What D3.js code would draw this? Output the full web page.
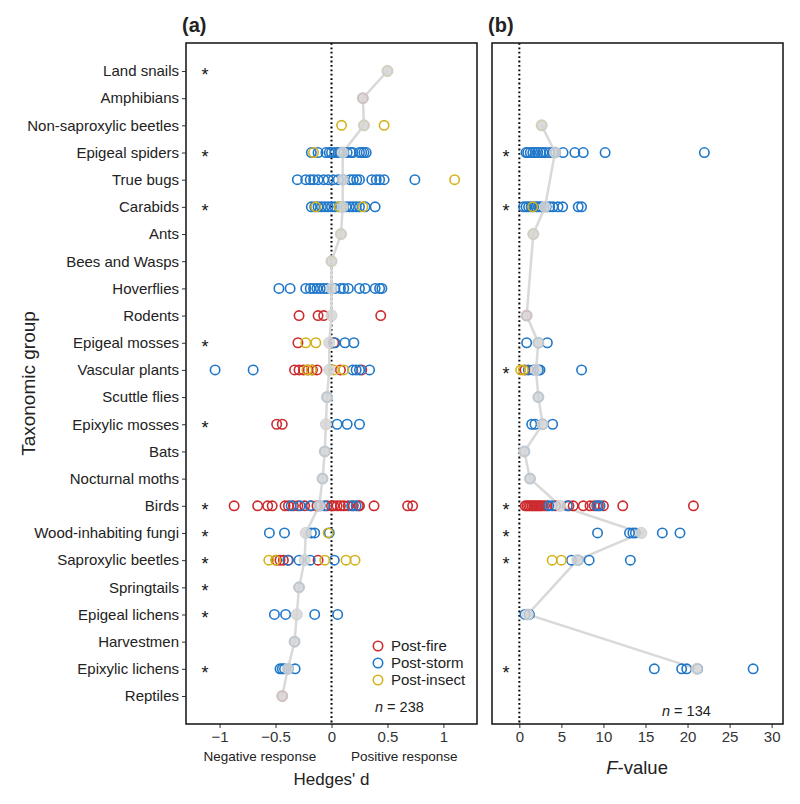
<!DOCTYPE html>
<html>
<head>
<meta charset="utf-8">
<script src="https://cdn.jsdelivr.net/npm/d3@7"></script>
<style>
  body { margin: 0; background: #fff; }
  svg text { font-family: "Liberation Sans", Arial, sans-serif; fill: #222; }
</style>
</head>
<body>
<svg id="chart" width="800" height="804"></svg>
<script>
// taxonomic groups, top to bottom
const groups = ["Land snails", "Amphibians", "Non-saproxylic beetles", "Epigeal spiders", "True bugs",
  "Carabids", "Ants", "Bees and Wasps", "Hoverflies", "Rodents", "Epigeal mosses", "Vascular plants",
  "Scuttle flies", "Epixylic mosses", "Bats", "Nocturnal moths", "Birds", "Wood-inhabiting fungi",
  "Saproxylic beetles", "Springtails", "Epigeal lichens", "Harvestmen", "Epixylic lichens", "Reptiles"];

// (a) Hedges' d
const meanA = [0.50, 0.28, 0.29, 0.10, 0.10, 0.10, 0.085, 0.0, 0.0, 0.0, -0.02, -0.02,
  -0.04, -0.05, -0.06, -0.08, -0.11, -0.23, -0.24, -0.29, -0.31, -0.33, -0.39, -0.44];
const fireA = {
  "Amphibians": [0.28],
  "Rodents": [-0.29, -0.12, -0.07, 0.44],
  "Epigeal mosses": [-0.30, 0.02],
  "Vascular plants": [-0.33, -0.29, -0.25, -0.21, -0.17, -0.13, 0.08, 0.27],
  "Epixylic mosses": [-0.49, -0.44],
  "Birds": [-0.87, -0.66, -0.57, -0.53, -0.415, -0.385, -0.34, -0.30, -0.24, -0.18, -0.13, -0.04,
    0.0, 0.02, 0.05, 0.08, 0.11, 0.15, 0.195, 0.24, 0.25, 0.38, 0.68, 0.725],
  "Saproxylic beetles": [-0.49, -0.46, -0.43, -0.385, -0.12],
  "Reptiles": [-0.44]
};
const stormA = {
  "Epigeal spiders": [-0.18, -0.12, -0.05, -0.02, 0.0, 0.03, 0.06, 0.08, 0.11, 0.14, 0.17, 0.19, 0.25, 0.27, 0.29, 0.31],
  "True bugs": [-0.305, -0.23, -0.19, -0.16, -0.12, -0.07, -0.03, 0.016, 0.06, 0.105, 0.165, 0.195,
    0.225, 0.25, 0.36, 0.40, 0.43, 0.47, 0.745],
  "Carabids": [-0.18, -0.15, -0.12, -0.09, -0.06, -0.03, 0.0, 0.03, 0.07, 0.10, 0.13, 0.16, 0.19, 0.22, 0.25, 0.30, 0.39],
  "Hoverflies": [-0.47, -0.37, -0.23, -0.19, -0.16, -0.13, -0.10, -0.07, -0.04, 0.03, 0.08, 0.11,
    0.15, 0.25, 0.30, 0.39, 0.43, 0.45],
  "Epigeal mosses": [0.03, 0.12, 0.20],
  "Vascular plants": [-1.04, -0.70, 0.19, 0.22, 0.25, 0.34],
  "Scuttle flies": [-0.04],
  "Epixylic mosses": [0.05, 0.14, 0.25],
  "Bats": [-0.06],
  "Nocturnal moths": [-0.08],
  "Birds": [-0.36, -0.28, -0.19, -0.10, -0.06, 0.18, 0.22],
  "Wood-inhabiting fungi": [-0.555, -0.42, -0.18, -0.15, -0.02],
  "Saproxylic beetles": [-0.39, -0.29, -0.19, 0.025],
  "Springtails": [-0.29],
  "Epigeal lichens": [-0.51, -0.41, -0.15, 0.055],
  "Harvestmen": [-0.33],
  "Epixylic lichens": [-0.46, -0.44, -0.42, -0.385, -0.325]
};
const insectA = {
  "Land snails": [0.50],
  "Non-saproxylic beetles": [0.09, 0.29, 0.47],
  "Epigeal spiders": [-0.16],
  "True bugs": [1.10],
  "Carabids": [-0.14, 0.07, 0.28],
  "Ants": [0.085],
  "Bees and Wasps": [0.0],
  "Epigeal mosses": [-0.23, -0.14],
  "Vascular plants": [-0.22, -0.18, 0.02, 0.11],
  "Wood-inhabiting fungi": [-0.03],
  "Saproxylic beetles": [-0.56, -0.50, -0.06, 0.13, 0.21]
};
const starsA = ["Land snails", "Epigeal spiders", "Carabids", "Epigeal mosses", "Epixylic mosses", "Birds",
  "Wood-inhabiting fungi", "Saproxylic beetles", "Springtails", "Epigeal lichens", "Epixylic lichens"];
const ticksA = [-1, -0.5, 0, 0.5, 1];

// (b) F-value
const meanB = [null, null, 2.66, 4.24, null, 3.05, 1.66, null, null, 0.87, 2.26, 1.98,
  2.26, 2.77, 0.6, 1.27, 4.84, 14.5, 6.9, null, 1.0, null, 21.1, null];
const fireB = {
  "Rodents": [0.87],
  "Vascular plants": [0.67],
  "Birds": [0.7, 0.9, 1.1, 1.3, 1.5, 1.7, 1.9, 2.1, 2.3, 2.5, 2.7, 3.0, 3.3, 4.3, 5.9, 6.4, 7.6, 8.4,
    8.9, 9.4, 10.0, 12.3, 20.7]
};
const stormB = {
  "Epigeal spiders": [0.8, 1.0, 1.3, 1.6, 1.9, 2.2, 2.5, 2.8, 3.1, 3.6, 4.0, 4.3, 5.2, 6.6, 7.6, 10.2, 22.0],
  "Carabids": [0.5, 0.8, 1.1, 1.4, 1.7, 2.0, 2.3, 2.6, 3.2, 3.6, 4.0, 4.6, 5.15, 7.0, 7.4],
  "Epigeal mosses": [0.87, 2.26, 3.33],
  "Vascular plants": [1.07, 1.66, 2.26, 2.46, 7.4],
  "Scuttle flies": [2.26],
  "Epixylic mosses": [1.47, 1.86, 2.77, 3.96],
  "Bats": [0.6],
  "Nocturnal moths": [1.27],
  "Birds": [3.5, 3.9, 5.7, 9.2, 9.6],
  "Wood-inhabiting fungi": [9.3, 13.1, 13.5, 13.8, 17.0, 19.1],
  "Saproxylic beetles": [6.2, 7.0, 8.3, 13.2],
  "Epigeal lichens": [0.67, 1.19],
  "Epixylic lichens": [16.05, 19.3, 19.9, 21.2, 27.8]
};
const insectB = {
  "Non-saproxylic beetles": [2.66],
  "Carabids": [1.6],
  "Ants": [1.66],
  "Vascular plants": [0.16, 0.48],
  "Saproxylic beetles": [3.9, 5.0]
};
const starsB = ["Epigeal spiders", "Carabids", "Vascular plants", "Birds", "Wood-inhabiting fungi",
  "Saproxylic beetles", "Epixylic lichens"];
const ticksB = [0, 5, 10, 15, 20, 25, 30];

const seriesNames = ["Post-fire", "Post-storm", "Post-insect"];
const seriesColors = ["#cc2a2d", "#1f77c9", "#d3b21b"];

const svg = d3.select("#chart");
const yTop = 43, yBottom = 724;

const y = d3.scalePoint().domain(groups).range([yTop, yBottom]).padding(1.03);

function panel(opts) {
  const x = d3.scaleLinear().domain(opts.domain).range(opts.range);
  const g = svg.append("g");

  // zero reference line
  g.append("line")
    .attr("x1", x(0)).attr("x2", x(0))
    .attr("y1", yTop).attr("y2", yBottom)
    .attr("stroke", "#000").attr("stroke-width", 2)
    .attr("stroke-dasharray", "1.8,2.6");

  // mean line
  const meanPts = groups.map((grp, i) => [grp, opts.mean[i]]).filter(d => d[1] != null);
  g.append("path")
    .datum(meanPts)
    .attr("fill", "none")
    .attr("stroke", "#d9d9d9")
    .attr("stroke-width", 2.5)
    .attr("d", d3.line().x(d => x(d[1])).y(d => y(d[0])));

  // raw effect sizes
  opts.series.forEach((s, si) => {
    const pts = [];
    Object.keys(s).forEach(grp => s[grp].forEach(v => pts.push([grp, v])));
    g.append("g").selectAll("circle")
      .data(pts)
      .enter().append("circle")
      .attr("cx", d => x(d[1]))
      .attr("cy", d => y(d[0]))
      .attr("r", 4.7)
      .attr("fill", "none")
      .attr("stroke", seriesColors[si])
      .attr("stroke-width", 1.6);
  });

  // means
  g.append("g").selectAll("circle")
    .data(meanPts)
    .enter().append("circle")
    .attr("cx", d => x(d[1]))
    .attr("cy", d => y(d[0]))
    .attr("r", 5.6)
    .attr("fill", "#d5d5d5")
    .attr("fill-opacity", 0.85)
    .attr("stroke", "#cfcfcf")
    .attr("stroke-opacity", 0.85)
    .attr("stroke-width", 1);

  // significance stars
  g.append("g").selectAll("text")
    .data(opts.stars)
    .enter().append("text")
    .attr("x", opts.starX)
    .attr("y", d => y(d) + 10)
    .attr("text-anchor", "middle")
    .attr("font-size", 18)
    .style("fill", "#111")
    .text("*");

  // x axis
  const xAxis = g.append("g")
    .attr("transform", `translate(0,${yBottom})`)
    .call(d3.axisBottom(x).tickValues(opts.ticks).tickSize(4).tickPadding(3)
      .tickFormat(d => d < 0 ? "\u2212" + Math.abs(d) : String(d)));
  xAxis.select(".domain").remove();
  xAxis.selectAll("line").attr("stroke", "#333");
  xAxis.selectAll("text").attr("font-size", 15).style("fill", "#333");

  // frame
  g.append("rect")
    .attr("x", opts.range[0]).attr("y", yTop)
    .attr("width", opts.range[1] - opts.range[0]).attr("height", yBottom - yTop)
    .attr("fill", "none").attr("stroke", "#111").attr("stroke-width", 1.5);

  // panel tag
  g.append("text")
    .attr("x", opts.range[0] - 4).attr("y", 32)
    .attr("font-size", 20).attr("font-weight", "bold")
    .style("fill", "#222")
    .text(opts.tag);

  // n label
  const nt = g.append("text")
    .attr("x", opts.nX).attr("y", opts.nY)
    .attr("font-size", 14.5);
  nt.append("tspan").attr("font-style", "italic").text("n");
  nt.append("tspan").text(" = " + opts.n);

  return x;
}

const xA = panel({
  domain: [-1.3, 1.3], range: [186, 477], mean: meanA,
  series: [fireA, stormA, insectA], stars: starsA, starX: 205,
  ticks: ticksA, tag: "(a)", n: 238, nX: 375, nY: 712
});

const xB = panel({
  domain: [-3.25, 31.35], range: [492, 783], mean: meanB,
  series: [fireB, stormB, insectB], stars: starsB, starX: 506,
  ticks: ticksB, tag: "(b)", n: 134, nX: 662, nY: 716
});

// y axis on panel (a)
const yAxis = svg.append("g")
  .attr("transform", "translate(186,0)")
  .call(d3.axisLeft(y).tickSize(4).tickPadding(3));
yAxis.select(".domain").remove();
yAxis.selectAll("line").attr("stroke", "#333");
yAxis.selectAll("text").attr("font-size", 15).style("fill", "#222");

// legend
const legend = svg.append("g").attr("transform", "translate(378,646)");
seriesNames.forEach((name, i) => {
  legend.append("circle")
    .attr("cx", 0).attr("cy", i * 17)
    .attr("r", 4.7).attr("fill", "none")
    .attr("stroke", seriesColors[i]).attr("stroke-width", 1.6);
  legend.append("text")
    .attr("x", 13).attr("y", i * 17 + 5.3)
    .attr("font-size", 15)
    .text(name);
});

// axis titles
svg.append("text")
  .attr("x", xA(-0.64)).attr("y", 761)
  .attr("text-anchor", "middle").attr("font-size", 13.5)
  .text("Negative response");
svg.append("text")
  .attr("x", xA(0.65)).attr("y", 761)
  .attr("text-anchor", "middle").attr("font-size", 13.5)
  .text("Positive response");
svg.append("text")
  .attr("x", xA(0)).attr("y", 785)
  .attr("text-anchor", "middle").attr("font-size", 17)
  .text("Hedges' d");
const ft = svg.append("text")
  .attr("x", xB(14)).attr("y", 774)
  .attr("text-anchor", "middle").attr("font-size", 18.5);
ft.append("tspan").attr("font-style", "italic").text("F");
ft.append("tspan").text("-value");
svg.append("text")
  .attr("transform", `translate(35,${(yTop + yBottom) / 2}) rotate(-90)`)
  .attr("text-anchor", "middle").attr("font-size", 19)
  .text("Taxonomic group");
</script>
</body>
</html>
